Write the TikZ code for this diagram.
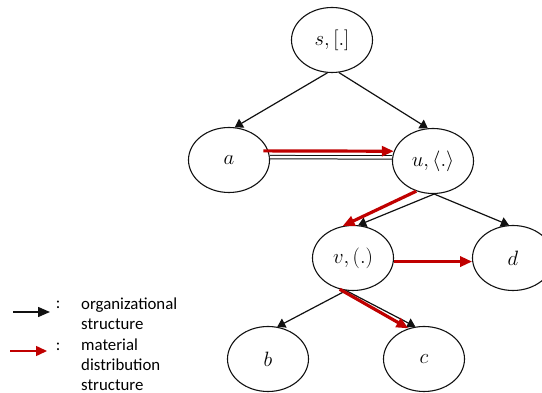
\documentclass[tikz,border=0pt]{standalone}
\usepackage{fontspec}
\usepackage{tikz}
\usetikzlibrary{arrows.meta, shapes.geometric}
\newfontfamily\legendfont{Carlito}
\definecolor{matRed}{HTML}{C00000}
\definecolor{orgBlack}{HTML}{111111}

\begin{document}
\begin{tikzpicture}[x=1pt, y=-1pt,
  agent/.style={draw=orgBlack, line width=1.1pt, ellipse, minimum width=81pt, minimum height=65pt, inner sep=0pt, font=\fontsize{20}{24}\selectfont},
  org/.style={draw=orgBlack, line width=1.2pt, -{Triangle[length=8pt, width=10pt]}},
  mat/.style={draw=matRed, line width=3.2pt, -{Triangle[length=12pt, width=10pt]}},
  legtext/.style={font=\legendfont\fontsize{16.8}{20}\selectfont, align=left, inner sep=0pt}]
\useasboundingbox (0,0) rectangle (542,393);
% agents
\foreach \n/\x/\y/\lbl in {s/332/40/{s,[.]}, a/229/160/{a}, u/433/161/{u,\langle.\rangle}, v/353/258/{v,(.)}, d/513/258/{d}, b/268/359/{b}, c/424/359/{c}}
{\node[agent] (\n) at (\x,\y) {$\lbl$};}
% organizational structure
\foreach \from/\to in {s.262/a.80, s.282/u.99, u.272/v.81, u.272/d.97, v.258/b.74, v.258/c.105}
{\draw[org] (\from) -- (\to);}
\draw[orgBlack, line width=1pt, double, double distance=2.4pt] (a.4) -- (u.175);
% material distribution
\draw[mat, shorten <=-5pt] (a.13) -- (u.166);
\foreach \from/\to in {u.241/v.108, v.355/d.185, v.247/c.117}
{\draw[mat] (\from) -- (\to);}
% legend
\coordinate (orgL) at (13,312);
\coordinate (orgR) at (50,312);
\coordinate (matL) at (10,351);
\coordinate (matR) at (47,351);
\draw[orgBlack, line width=1.5pt, -{Triangle[length=12pt, width=10pt]}] (orgL) -- (orgR);
\draw[matRed, line width=1.5pt, -{Triangle[length=11pt, width=10pt]}] (matL) -- (matR);
\node[legtext, anchor=base] (orgColon) at (58,309) {:};
\node[legtext, anchor=base] (matColon) at (58,351) {:};
\node[legtext, anchor=north west] (orgText) at (81,298) {organizational\\structure};
\node[legtext, anchor=north west] (matText) at (81,339) {material\\distribution\\structure};
\end{tikzpicture}
\end{document}
